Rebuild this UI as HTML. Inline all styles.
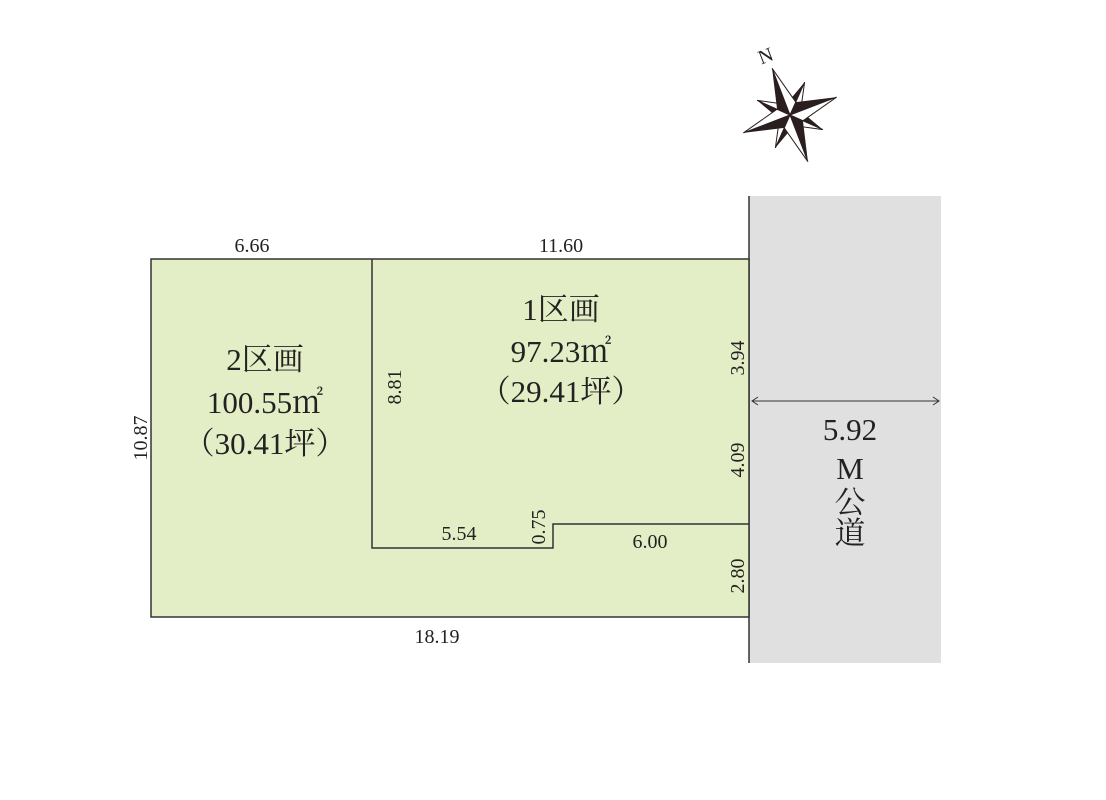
<!DOCTYPE html>
<html><head><meta charset="utf-8"><style>
html,body{margin:0;padding:0;background:#fff}
svg{display:block}
text{font-family:"Liberation Serif","Noto Serif CJK SC",serif;fill:#222}
</style></head><body>
<svg width="1106" height="800" viewBox="0 0 1106 800">
<defs>
<g id="armL"><polygon points="0,0 0,-50 -10,-10" fill="#2a1e1e"/><polygon points="0,0 0,-50 10,-10" fill="#fff" stroke="#2a1e1e" stroke-width="1"/></g>
<g id="armS"><polygon points="0,0 0,-36 -8,-8" fill="#2a1e1e"/><polygon points="0,0 0,-36 8,-8" fill="#fff" stroke="#2a1e1e" stroke-width="1"/></g>
</defs>
<rect x="749" y="196" width="192" height="467" fill="#e0e0e0"/>
<line x1="749" y1="196" x2="749" y2="663" stroke="#333" stroke-width="1.5"/>
<rect x="151" y="259" width="598" height="358" fill="#e3edc6" stroke="#333" stroke-width="1.5"/>
<polyline points="372,259 372,548 553,548 553,524 749,524" fill="none" stroke="#333" stroke-width="1.5"/>
<line x1="752" y1="401" x2="939" y2="401" stroke="#333" stroke-width="1"/>
<polyline points="758,397 752,401 758,405" fill="none" stroke="#333"/>
<polyline points="933,397 939,401 933,405" fill="none" stroke="#333"/>
<g font-size="20">
<text x="252" y="252" text-anchor="middle">6.66</text>
<text x="561" y="252" text-anchor="middle">11.60</text>
<text x="437" y="643" text-anchor="middle">18.19</text>
<text x="459" y="540" text-anchor="middle">5.54</text>
<text x="650" y="548" text-anchor="middle">6.00</text>
<text transform="translate(147,438) rotate(-90)" text-anchor="middle">10.87</text>
<text transform="translate(401,387) rotate(-90)" text-anchor="middle">8.81</text>
<text transform="translate(545,527) rotate(-90)" text-anchor="middle">0.75</text>
<text transform="translate(744,358) rotate(-90)" text-anchor="middle">3.94</text>
<text transform="translate(744,460) rotate(-90)" text-anchor="middle">4.09</text>
<text transform="translate(744,576) rotate(-90)" text-anchor="middle">2.80</text>
</g>
<g font-size="31" text-anchor="middle">
<text x="265" y="370">2区画</text>
<text x="265" y="413">100.55㎡</text>
<text x="265" y="454">（30.41坪）</text>
<text x="561" y="320">1区画</text>
<text x="561" y="362">97.23㎡</text>
<text x="561" y="402">（29.41坪）</text>
<text x="850" y="440">5.92</text>
<text x="850" y="479">M</text>
<text x="850" y="513">公</text>
<text x="850" y="544">道</text>
</g>
<g transform="translate(790,115) rotate(-21)">
<use href="#armS" transform="rotate(45)"/><use href="#armS" transform="rotate(135)"/>
<use href="#armS" transform="rotate(225)"/><use href="#armS" transform="rotate(315)"/>
<use href="#armL"/><use href="#armL" transform="rotate(90)"/>
<use href="#armL" transform="rotate(180)"/><use href="#armL" transform="rotate(270)"/>
</g>
<text transform="translate(768,62) rotate(-21)" font-size="20" text-anchor="middle">N</text>
</svg>
</body></html>
